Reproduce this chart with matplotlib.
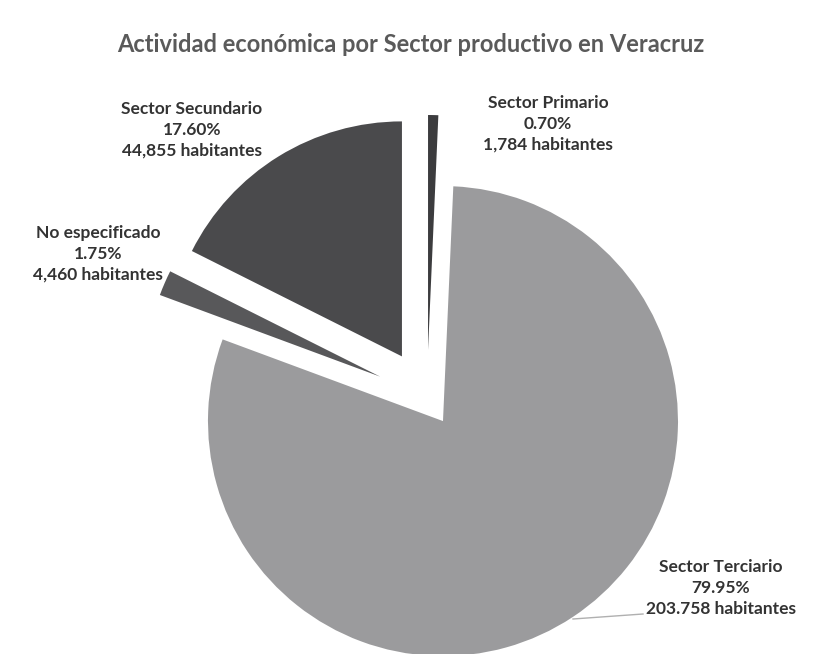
import numpy as np
import matplotlib.pyplot as plt

# datos del grafico
sectores = ["Sector Primario", "Sector Terciario", "No especificado", "Sector Secundario"]
porcentajes = [0.70, 79.95, 1.75, 17.60]
habitantes = ["1,784", "203.758", "4,460", "44,855"]
colores = ["#3c3c3e", "#9b9b9d", "#58585a", "#4a4a4c"]
separar = [0.20, 0.123, 0.217, 0.203]

W, H = 822, 654
R = 235
fig = plt.figure(figsize=(W / 100, H / 100), dpi=100)
ax = fig.add_axes([0, 0, 1, 1])

# explode va en unidades de datos, por eso se multiplica por el radio
ax.pie(porcentajes, colors=colores, explode=[e * R for e in separar],
       startangle=90, counterclock=False, center=(427, H - 397), radius=R,
       wedgeprops=dict(linewidth=0), frame=True)
ax.set_xlim(0, W)
ax.set_ylim(0, H)
ax.set_aspect("equal")
ax.axis("off")

ax.text(411, H - 44, "Actividad económica por Sector productivo en Veracruz",
        ha="center", va="center", fontsize=17, fontweight="bold",
        family="Lato", color="#5a5a5a")

pos = [(548, 124), (721, 588), (98, 254), (192, 130)]
for s, p, h, (x, y) in zip(sectores, porcentajes, habitantes, pos):
    ax.text(x, H - y, f"{s}\n{p:.2f}%\n{h} habitantes", ha="center",
            va="center", fontsize=12.5, fontweight="bold", family="Lato",
            color="#333333", linespacing=1.38)

# linea guia del sector terciario
ax.plot([573, 643], [H - 619, H - 614], color="#b0b0b0", lw=1)

fig.savefig("out.png", dpi=100)
